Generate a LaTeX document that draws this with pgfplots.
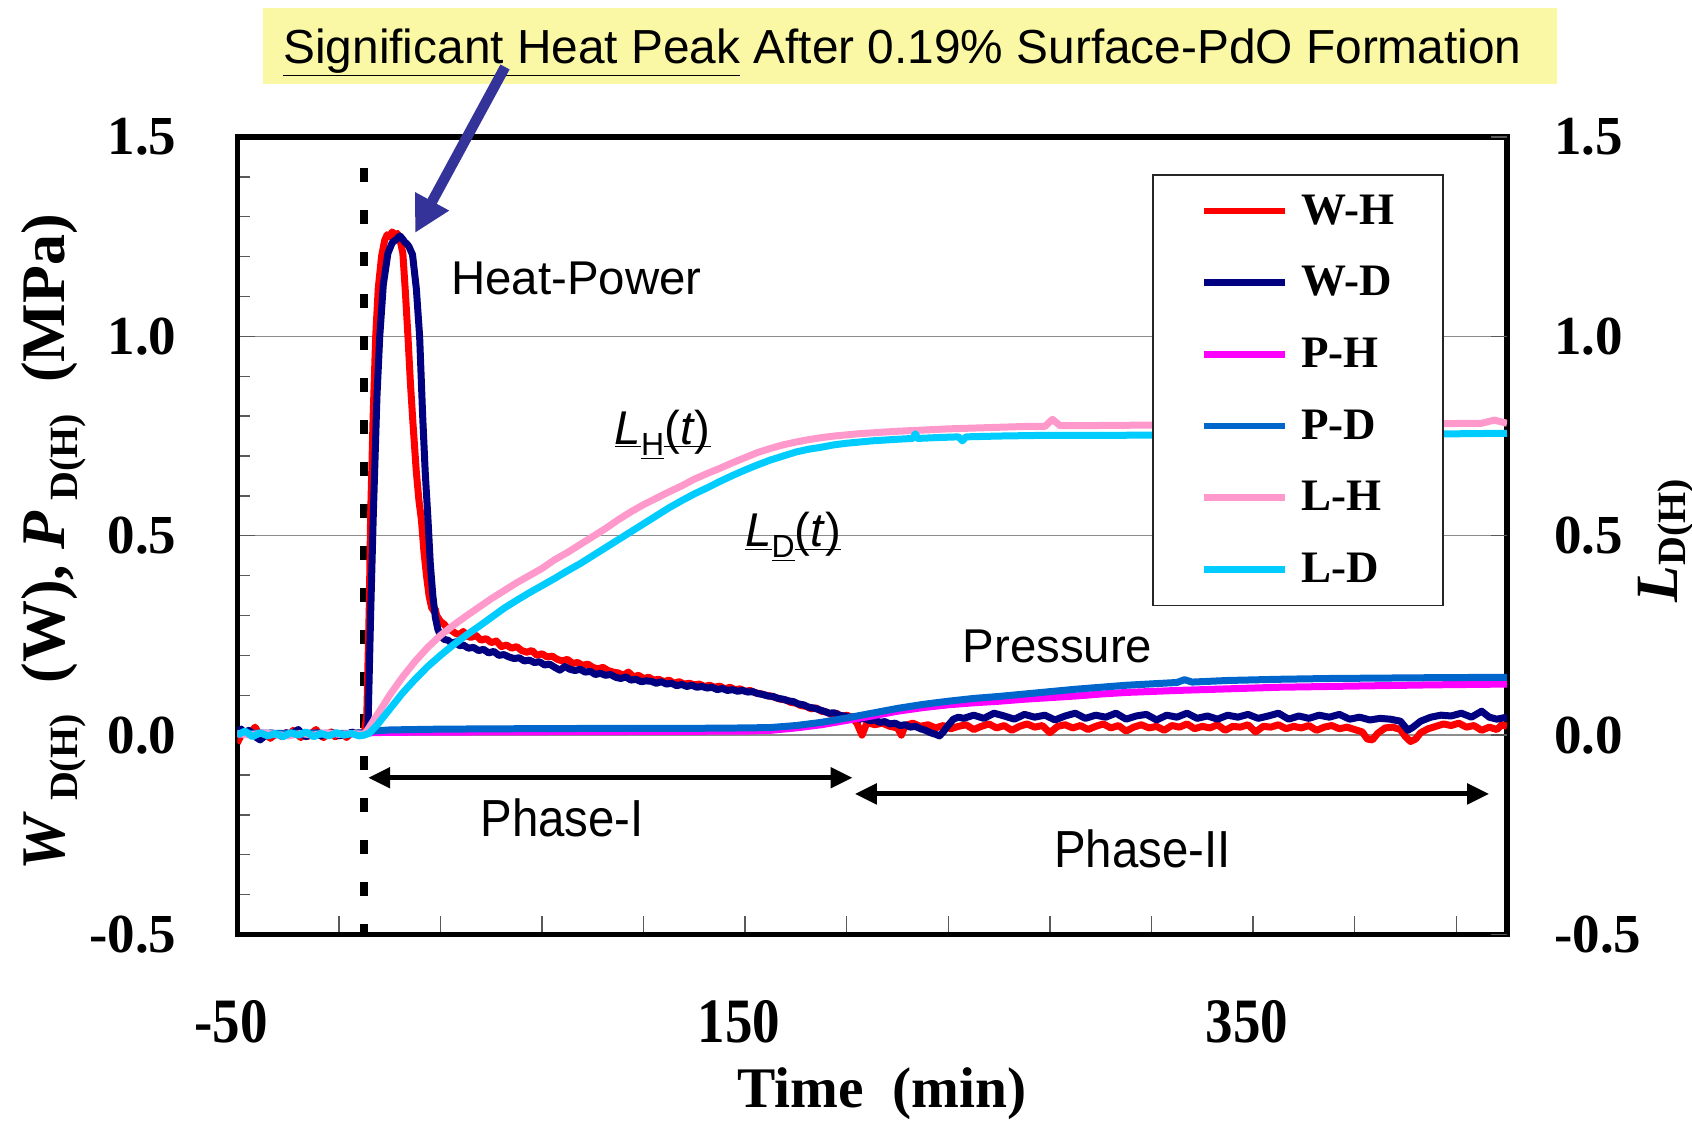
\documentclass[border=0pt]{standalone}
\usepackage{fontspec}
\setmainfont{Liberation Serif}
\newfontfamily\arial{Liberation Sans}
\usepackage{pgfplots}
\pgfplotsset{compat=1.18}
\usetikzlibrary{arrows.meta}
\definecolor{cWH}{RGB}{255,0,0}
\definecolor{cWD}{RGB}{0,0,128}
\definecolor{cPH}{RGB}{255,0,255}
\definecolor{cPD}{RGB}{0,102,204}
\definecolor{cLH}{RGB}{255,153,204}
\definecolor{cLD}{RGB}{0,204,255}
\definecolor{boxy}{RGB}{250,248,165}
\definecolor{arrowc}{RGB}{51,51,153}
\newcommand\xs[1]{\scalebox{1}[1.15]{#1}}
\newcommand\ul[1]{\underline{\smash{#1}}}
\begin{document}
\begin{tikzpicture}
\useasboundingbox (-118.65pt,-93.75pt) rectangle (727.35pt,467.25pt);
\fill[boxy] (12.85pt,425.25pt) rectangle (659.85pt,463pt);
\node[anchor=base west, inner sep=0pt, font=\arial\fontsize{23.9}{26}\selectfont] at (22.85pt,435.7pt) {\underline{Significant Heat Peak} After 0.19\% Surface-PdO Formation};
\begin{axis}[
  at={(0pt,0pt)}, anchor=south west,
  scale only axis, width=634.85pt, height=398.75pt,
  xmin=-50, xmax=450, ymin=-0.5, ymax=1.5,
  axis line style={line width=2.7pt},
  xtick={-50,-10,...,430},
  xticklabels={\xs{-50},,,,,\xs{150},,,,,\xs{350},,},
  ytick={-0.5,0,0.5,1,1.5},
  minor ytick={-0.4,-0.3,-0.2,-0.1,0.1,0.2,0.3,0.4,0.6,0.7,0.8,0.9,1.1,1.2,1.3,1.4},
  ytick pos=left, xtick pos=bottom, tick align=inside,
  major tick length=9pt, minor tick length=6.3pt,
  tick style={black!65, line width=0.7pt},
  ymajorgrids, major grid style={black!45, line width=0.7pt},
  /pgf/number format/assume math mode=true,
  yticklabel style={/pgf/number format/.cd, fixed, fixed zerofill, precision=1, /tikz/.cd, anchor=east, inner sep=0pt, xshift=-30.2pt, font=\fontsize{27.5}{30}\selectfont\bfseries},
  xticklabel style={anchor=north, inner sep=0pt, yshift=-32.8pt, xshift=-3pt, font=\fontsize{27.5}{30}\selectfont\bfseries},
  every axis plot/.append style={line width=3.5pt, line join=round, no markers},
  legend style={at={(0.7204,0.9536)}, anchor=north west, draw=black!85, line width=0.8pt, fill=white,
    font=\fontsize{22.5}{24}\selectfont\bfseries, inner xsep=24pt, inner ysep=10pt, row sep=19.6pt,
    nodes={inner sep=0pt, anchor=west},
    /tikz/every odd column/.append style={column sep=6.5pt}},
  legend cell align=left,
  legend image code/.code={\draw[#1, line width=3.3pt] (0pt,0pt) -- (40.5pt,0pt);},
  clip=true,
]
\draw[black, line width=4pt, dash pattern=on 7.2pt off 13.8pt, dash phase=5.5pt] (axis cs:0,1.5) -- (axis cs:0,-0.5);

\addplot[cWH] coordinates {(-50,-0.02)(-48.5,0)(-47,0.008)(-45.5,0.003)(-44,0.012)(-43,0.02)(-41.5,0.004)(-40,-0.006)(-38.5,0.002)(-37,-0.008)(-35.5,0)(-34,0.004)(-32.5,-0.004)(-31,0.006)(-29.5,0)(-28,0.012)(-26.5,0.002)(-25,-0.006)(-23.5,0.004)(-22,-0.003)(-20.5,0.006)(-19,0.014)(-17.5,0)(-16,-0.006)(-14.5,0.002)(-13,0.008)(-11.5,-0.004)(-10,0)(-8.5,0.004)(-7,-0.006)(-5.5,0.003)(-4,0.006)(-2.5,0)(-1,0.004)(0,0.005)(1,0.05)(2,0.33)(2.5,0.55)(3.5,0.8)(4.5,1.0)(5.5,1.12)(6.8,1.2)(8,1.24)(9,1.255)(10,1.25)(11,1.262)(12,1.255)(13,1.258)(14,1.245)(15.2,1.208)(16.2,1.11)(17.2,1.0)(18.2,0.88)(19.2,0.78)(20.5,0.66)(21.5,0.59)(22.5,0.54)(23.5,0.46)(24.5,0.4)(25.5,0.35)(26.5,0.32)(27.5,0.31)(28,0.315)(28.5,0.3)(30,0.285)(31.5,0.278)(33,0.265)(34.5,0.262)(36,0.255)(37.5,0.252)(39,0.26)(40.5,0.248)(42,0.245)(44,0.25)(46,0.238)(48,0.242)(50,0.232)(52,0.236)(54,0.222)(56,0.226)(58,0.218)(60,0.222)(62,0.212)(64,0.208)(66,0.212)(68,0.2)(70,0.204)(72,0.196)(74,0.198)(76,0.19)(78,0.186)(80,0.19)(82,0.18)(84,0.182)(86,0.175)(88,0.178)(90,0.17)(92,0.166)(94,0.17)(96,0.162)(98,0.158)(100,0.156)(102,0.15)(104,0.158)(106,0.146)(108,0.15)(110,0.142)(112,0.145)(114,0.138)(116,0.14)(118,0.134)(120,0.138)(122,0.13)(124,0.134)(126,0.128)(128,0.13)(130,0.126)(132,0.128)(134,0.122)(136,0.125)(138,0.12)(140,0.123)(142,0.116)(144,0.12)(146,0.114)(148,0.116)(150,0.11)(152,0.112)(154,0.106)(156,0.104)(158,0.1)(160,0.098)(162,0.094)(164,0.09)(166,0.088)(168,0.082)(170,0.08)(172,0.074)(174,0.072)(176,0.066)(178,0.068)(180,0.06)(182,0.058)(184,0.052)(186,0.055)(188,0.046)(190,0.05)(192,0.044)(194,0.03)(196,0)(198,0.032)(201,0.026)(204,0.03)(207,0.022)(210,0.018)(211.5,0)(213,0.024)(216,0.03)(219,0.022)(222,0.026)(225,0.018)(228,0.024)(231,0.016)(234,0.022)(237,0.026)(240,0.014)(243,0.022)(246,0.028)(249,0.018)(252,0.024)(255,0.012)(258,0.022)(261,0.028)(264,0.02)(267,0.024)(270,0.006)(273,0.022)(276,0.026)(279,0.018)(282,0.024)(285,0.014)(288,0.022)(291,0.028)(294,0.018)(297,0.024)(300,0.01)(303,0.02)(306,0.026)(309,0.018)(312,0.022)(315,0.012)(318,0.024)(321,0.02)(324,0.028)(327,0.016)(330,0.022)(333,0.018)(336,0.026)(339,0.012)(342,0.022)(345,0.02)(348,0.026)(351,0.008)(354,0.022)(357,0.02)(360,0.026)(363,0.016)(366,0.022)(369,0.018)(372,0.024)(375,0.012)(378,0.02)(381,0.024)(384,0.016)(387,0.02)(390,0.014)(393,0.008)(395,-0.01)(397,-0.012)(399,0.004)(402,0.018)(405,0.02)(408,0.014)(410,-0.004)(412,-0.016)(414,-0.01)(416,0.006)(419,0.016)(422,0.022)(425,0.028)(428,0.024)(431,0.03)(434,0.02)(437,0.024)(440,0.012)(443,0.02)(446,0.014)(448,0.026)(450,0.022)};
\addlegendentry{W-H}

\addplot[cWD] coordinates {(-50,0.01)(-48.5,0.015)(-47,0.006)(-45.5,0.012)(-44,0.004)(-42.5,-0.006)(-41,-0.012)(-39.5,-0.004)(-38,0.002)(-36.5,0.006)(-35,0)(-33.5,0.004)(-32,-0.002)(-30.5,0.006)(-29,0)(-27.5,0.008)(-26,0.014)(-24.5,0.004)(-23,-0.004)(-21.5,0.004)(-20,0)(-18.5,0.006)(-17,-0.002)(-15.5,0.004)(-14,0)(-12.5,0.006)(-11,0.002)(-9.5,-0.002)(-8,0.004)(-6.5,0)(-5,0.008)(-3.5,0.004)(-2,0.006)(-0.5,0.002)(1,0.005)(1.5,0.03)(2.5,0.3)(3.5,0.54)(5,0.85)(6.1,1.0)(7.5,1.13)(9.3,1.208)(11,1.235)(13,1.245)(14,1.252)(15,1.245)(16,1.236)(16.8,1.232)(17.6,1.225)(19,1.205)(20.5,1.12)(21.8,1.0)(23,0.8)(24,0.66)(25.1,0.54)(26,0.43)(27,0.35)(28,0.295)(29,0.265)(30,0.25)(31.5,0.24)(33,0.238)(34.5,0.23)(36,0.234)(37.5,0.224)(39,0.226)(41,0.218)(43,0.22)(45,0.212)(47,0.215)(49,0.206)(51,0.21)(53,0.2)(55,0.202)(57,0.196)(59,0.192)(61,0.194)(63,0.186)(65,0.188)(67,0.182)(69,0.184)(71,0.176)(73,0.178)(75,0.17)(77,0.163)(79,0.172)(81,0.165)(83,0.162)(85,0.165)(87,0.158)(89,0.16)(91,0.152)(93,0.155)(95,0.15)(97,0.152)(99,0.145)(101,0.142)(103,0.146)(105,0.138)(107,0.14)(109,0.134)(111,0.136)(113,0.135)(115,0.13)(117,0.134)(119,0.128)(121,0.13)(123,0.124)(125,0.127)(127,0.122)(129,0.125)(131,0.12)(133,0.122)(135,0.118)(137,0.12)(139,0.114)(141,0.117)(143,0.112)(145,0.114)(147,0.11)(149,0.112)(151,0.108)(153,0.109)(155,0.104)(157,0.102)(159,0.098)(161,0.097)(163,0.092)(165,0.09)(167,0.086)(169,0.084)(171,0.078)(173,0.076)(175,0.07)(177,0.068)(179,0.064)(181,0.06)(183,0.055)(185,0.056)(187,0.05)(189,0.048)(191,0.045)(193,0.046)(195,0.04)(197,0.042)(199,0.036)(201,0.038)(203,0.032)(205,0.034)(207,0.028)(209,0.03)(211,0.024)(213,0.026)(215,0.02)(217,0.022)(219,0.016)(221,0.012)(223,0.006)(225,0.002)(226.5,-0.002)(228,0.008)(230,0.025)(232,0.04)(234,0.045)(236,0.042)(240,0.05)(244,0.042)(248,0.055)(252,0.048)(256,0.04)(260,0.052)(264,0.045)(268,0.05)(272,0.038)(276,0.048)(280,0.055)(284,0.042)(288,0.05)(292,0.045)(296,0.055)(300,0.04)(304,0.048)(308,0.052)(312,0.038)(316,0.05)(320,0.045)(324,0.055)(328,0.042)(332,0.048)(336,0.04)(340,0.05)(344,0.045)(348,0.052)(352,0.042)(356,0.048)(360,0.055)(364,0.04)(368,0.048)(372,0.042)(376,0.05)(380,0.045)(384,0.052)(388,0.04)(392,0.045)(396,0.038)(400,0.042)(404,0.04)(408,0.035)(411,0.012)(413,0.02)(416,0.035)(420,0.045)(424,0.05)(428,0.048)(432,0.055)(436,0.045)(440,0.06)(443,0.045)(446,0.04)(450,0.045)};
\addlegendentry{W-D}

\addplot[cPH] coordinates {(-50,0.003)(-30,0.004)(-10,0.003)(0,0.004)(3,0.006)(10,0.007)(50,0.008)(100,0.009)(150,0.01)(160,0.012)(170,0.018)(180,0.026)(190,0.037)(200,0.048)(210,0.06)(220,0.069)(230,0.076)(240,0.081)(250,0.085)(260,0.09)(270,0.094)(280,0.098)(290,0.103)(300,0.107)(320,0.112)(340,0.116)(360,0.12)(380,0.122)(400,0.124)(420,0.126)(450,0.128)};
\addlegendentry{P-H}

\addplot[cPD] coordinates {(-50,0.004)(-40,0.005)(-30,0.004)(-20,0.005)(-10,0.004)(0,0.005)(3,0.01)(10,0.013)(30,0.015)(60,0.016)(100,0.017)(130,0.017)(150,0.018)(160,0.019)(170,0.024)(180,0.032)(190,0.043)(200,0.055)(210,0.067)(220,0.077)(230,0.085)(240,0.092)(250,0.097)(260,0.103)(270,0.109)(280,0.115)(290,0.12)(300,0.125)(320,0.132)(323,0.139)(326,0.133)(340,0.137)(360,0.14)(380,0.142)(400,0.143)(420,0.144)(450,0.145)};
\addlegendentry{P-D}

\addplot[cLH] coordinates {(-50,0.004)(-45,0)(-40,0.006)(-35,0.002)(-30,-0.002)(-25,0.004)(-20,0)(-15,0.006)(-10,0.002)(-5,0.004)(0,0.002)(2,0.02)(5,0.05)(10,0.1)(15,0.145)(20,0.185)(25,0.22)(30,0.25)(35,0.275)(40,0.298)(45,0.32)(50,0.342)(55,0.362)(60,0.382)(65,0.4)(70,0.418)(75,0.44)(80,0.458)(85,0.478)(90,0.498)(95,0.518)(100,0.54)(105,0.56)(110,0.578)(115,0.594)(120,0.61)(125,0.625)(130,0.642)(135,0.656)(140,0.669)(145,0.683)(150,0.696)(155,0.709)(160,0.719)(165,0.728)(170,0.735)(175,0.741)(180,0.746)(185,0.75)(190,0.753)(195,0.756)(200,0.758)(210,0.762)(220,0.765)(230,0.768)(240,0.77)(250,0.772)(260,0.774)(268,0.774)(271,0.792)(274,0.776)(280,0.776)(300,0.777)(320,0.778)(340,0.778)(360,0.779)(380,0.78)(400,0.78)(420,0.781)(440,0.782)(445,0.79)(450,0.782)};
\addlegendentry{L-H}

\addplot[cLD] coordinates {(-50,0)(-47,0.01)(-44,-0.004)(-41,0.006)(-38,-0.002)(-35,0.004)(-32,-0.004)(-29,0.006)(-26,0)(-23,0.008)(-20,-0.004)(-17,0.004)(-14,-0.002)(-11,0.006)(-8,0)(-5,0.004)(-2,-0.002)(0,0)(2,0.005)(5,0.025)(10,0.065)(15,0.105)(20,0.14)(25,0.172)(30,0.2)(35,0.226)(40,0.25)(45,0.272)(50,0.295)(55,0.318)(60,0.338)(65,0.357)(70,0.375)(75,0.393)(80,0.412)(85,0.43)(90,0.45)(95,0.47)(100,0.49)(105,0.51)(110,0.53)(115,0.55)(120,0.57)(125,0.588)(130,0.605)(135,0.62)(140,0.636)(145,0.651)(150,0.665)(155,0.678)(160,0.69)(165,0.7)(170,0.71)(175,0.717)(180,0.722)(185,0.728)(190,0.732)(195,0.735)(200,0.738)(210,0.742)(216,0.744)(217,0.756)(218,0.744)(225,0.746)(234,0.748)(235.5,0.738)(237,0.748)(250,0.75)(270,0.752)(300,0.752)(330,0.753)(360,0.754)(400,0.755)(420,0.755)(450,0.757)};
\addlegendentry{L-D}

\draw[line width=2.5pt, {Triangle[length=11pt,width=10pt]}-{Triangle[length=11pt,width=10pt]}] (axis cs:1.5,-0.1069) -- (axis cs:192.3,-0.1069);
\draw[line width=2.5pt, {Triangle[length=11pt,width=10pt]}-{Triangle[length=11pt,width=10pt]}] (axis cs:193.2,-0.1475) -- (axis cs:443,-0.1475);

\node[anchor=base west, inner sep=0pt, font=\arial\fontsize{23.7}{26}\selectfont] at (axis cs:34.1,1.1055) {Heat-Power};
\node[anchor=base west, inner sep=0pt, font=\arial\fontsize{23.7}{26}\selectfont] at (axis cs:235.5,0.1827) {Pressure};
\node[anchor=base west, inner sep=0pt, font=\arial\fontsize{23.7}{26}\selectfont] at (axis cs:45.6,-0.253) {\scalebox{1}[1.1]{Phase-I}};
\node[anchor=base west, inner sep=0pt, font=\arial\fontsize{23.7}{26}\selectfont] at (axis cs:271.6,-0.3315) {\scalebox{1}[1.1]{Phase-II}};
\node[anchor=base west, inner sep=0pt, font=\arial\fontsize{23.7}{26}\selectfont] at (axis cs:98.5,0.73) {\ul{\textit{L}}\raisebox{-0.25em}{\fontsize{16}{16}\selectfont\ul{H}}\ul{(\textit{t})}};
\node[anchor=base west, inner sep=3pt, fill=white, font=\arial\fontsize{23.7}{26}\selectfont] at (axis cs:147.5,0.474) {\ul{\textit{L}}\raisebox{-0.25em}{\fontsize{16}{16}\selectfont\ul{D}}\ul{(\textit{t})}};
\end{axis}

\begin{axis}[
  at={(0pt,0pt)}, anchor=south west,
  scale only axis, width=634.85pt, height=398.75pt,
  xmin=-50, xmax=450, ymin=-0.5, ymax=1.5,
  hide x axis, axis y line*=right,
  y axis line style={draw=none},
  ytick={-0.5,0,0.5,1,1.5}, tick align=inside,
  major tick length=8pt,
  tick style={black!65, line width=0.7pt},
  /pgf/number format/assume math mode=true,
  yticklabel style={/pgf/number format/.cd, fixed, fixed zerofill, precision=1, /tikz/.cd, anchor=west, inner sep=0pt, xshift=23.4pt, font=\fontsize{27.5}{30}\selectfont\bfseries},
]
\addplot[draw=none, forget plot] coordinates {(0,0)};
\end{axis}

\draw[arrowc, line width=5.2pt, -{Triangle[length=18pt,width=18pt]}] (133.85pt,433.75pt) -- (88.85pt,350.75pt);

\node[anchor=base, inner sep=0pt, font=\fontsize{28.7}{30}\selectfont\bfseries] at (322.4pt,-86.5pt) {Time\ \ (min)};
\node[rotate=90, anchor=base, inner sep=0pt, font=\fontsize{31}{33}\selectfont\bfseries] at (-86.3pt,196.2pt) {\textit{W}\,\raisebox{-0.2em}{\fontsize{20}{20}\selectfont D(H)}\ \ (W),\ \textit{P}\,\raisebox{-0.2em}{\fontsize{20}{20}\selectfont D(H)}\ \ (MPa)};
\node[rotate=90, anchor=base, inner sep=0pt, font=\fontsize{30}{32}\selectfont\bfseries] at (720.3pt,197pt) {\textit{L}\raisebox{-0.12em}{\fontsize{20}{20}\selectfont D(H)}};
\end{tikzpicture}
\end{document}
